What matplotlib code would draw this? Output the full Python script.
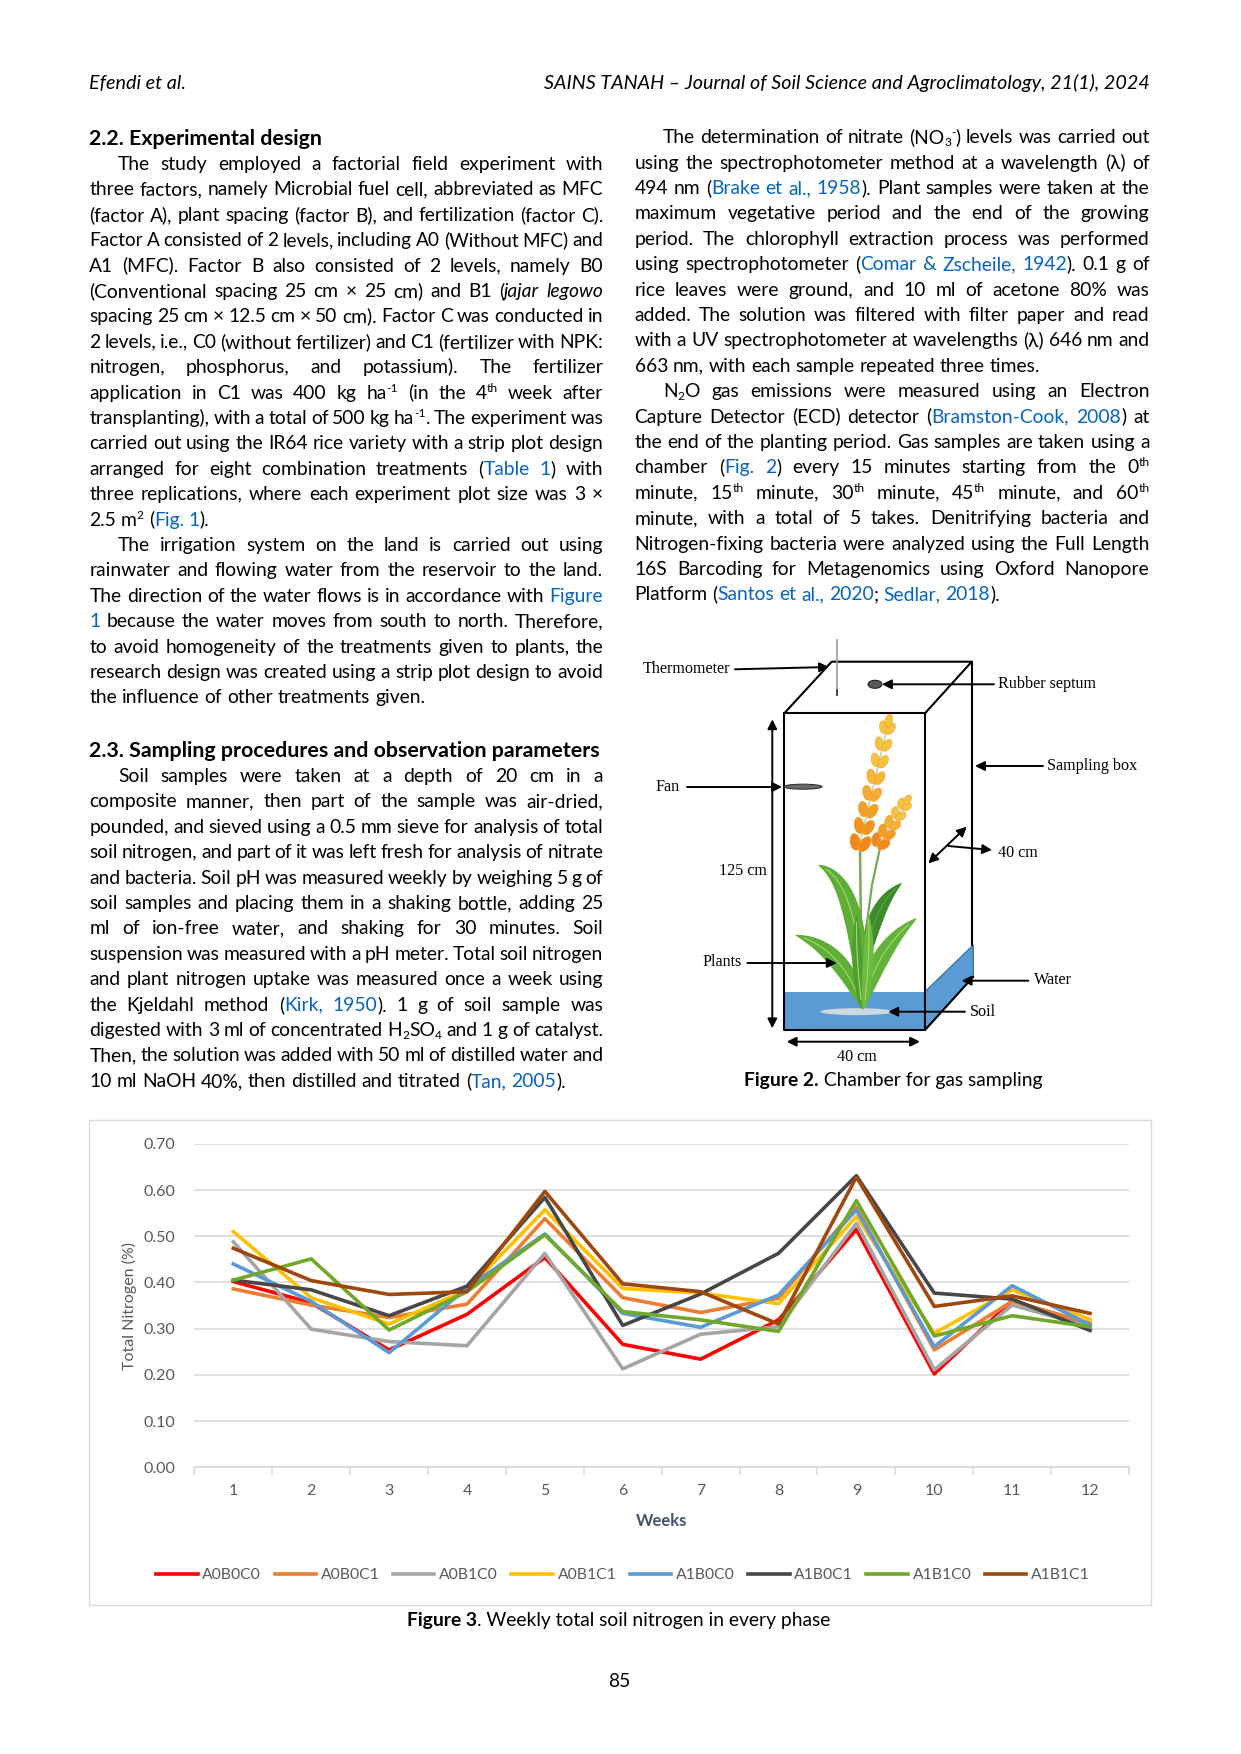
import re
import numpy as np
import matplotlib
matplotlib.use('Agg')
import matplotlib.pyplot as plt
from matplotlib.font_manager import FontProperties
from matplotlib.patches import Rectangle, Polygon, Ellipse
from matplotlib.ticker import FormatStrFormatter

W, H = 1241, 1754
BODY = ['Lato', 'DejaVu Sans']
SERIF = ['Liberation Serif', 'DejaVu Serif']
LINK = '#0563c1'
GREY = '#595959'
plt.rcParams['font.family'] = BODY

# ---- chart data (Figure 3) ----
weeks = list(range(1, 13))
treatments = ['A0B0C0', 'A0B0C1', 'A0B1C0', 'A0B1C1',
              'A1B0C0', 'A1B0C1', 'A1B1C0', 'A1B1C1']
colors = ['#ff0000', '#ed7d31', '#a5a5a5', '#ffc000',
          '#5b9bd5', '#474747', '#70a82a', '#9e480e']
a0b0c0 = [0.402, 0.356, 0.254, 0.331, 0.454, 0.266, 0.234, 0.319, 0.515, 0.202, 0.361, 0.308]
a0b0c1 = [0.386, 0.351, 0.324, 0.353, 0.538, 0.367, 0.335, 0.366, 0.563, 0.254, 0.359, 0.312]
a0b1c0 = [0.488, 0.299, 0.272, 0.263, 0.463, 0.213, 0.288, 0.304, 0.528, 0.211, 0.351, 0.304]
a0b1c1 = [0.510, 0.367, 0.310, 0.384, 0.557, 0.387, 0.377, 0.354, 0.543, 0.290, 0.384, 0.320]
a1b0c0 = [0.440, 0.359, 0.248, 0.388, 0.505, 0.333, 0.303, 0.373, 0.557, 0.261, 0.393, 0.308]
a1b0c1 = [0.405, 0.384, 0.328, 0.392, 0.584, 0.307, 0.375, 0.463, 0.631, 0.377, 0.364, 0.296]
a1b1c0 = [0.405, 0.451, 0.297, 0.380, 0.503, 0.337, 0.319, 0.294, 0.577, 0.284, 0.328, 0.304]
a1b1c1 = [0.474, 0.404, 0.374, 0.380, 0.597, 0.397, 0.380, 0.310, 0.628, 0.348, 0.371, 0.333]
series = [a0b0c0, a0b0c1, a0b1c0, a0b1c1, a1b0c0, a1b0c1, a1b1c0, a1b1c1]
yticks = [0.0, 0.1, 0.2, 0.3, 0.4, 0.5, 0.6, 0.7]

# ---- page text ----
header_left = 'Efendi et al.'
header_right = 'SAINS TANAH \u2013 Journal of Soil Science and Agroclimatology, 21(1), 2024'
head_22 = '2.2. Experimental design'
head_23 = '2.3. Sampling procedures and observation parameters'
par_a = [
    "The study employed a factorial field experiment with",
    "three factors, namely Microbial fuel cell, abbreviated as MFC",
    "(factor A), plant spacing (factor B), and fertilization (factor C).",
    "Factor A consisted of 2 levels, including A0 (Without MFC) and",
    "A1 (MFC). Factor B also consisted of 2 levels, namely B0",
    "(Conventional spacing 25 cm \u00d7 25 cm) and B1 (*jajar legowo*",
    "spacing 25 cm \u00d7 12.5 cm \u00d7 50 cm). Factor C was conducted in",
    "2 levels, i.e., C0 (without fertilizer) and C1 (fertilizer with NPK:",
    "nitrogen, phosphorus, and potassium). The fertilizer",
    "application in C1 was 400 kg ha^{-1} (in the 4^{th} week after",
    "transplanting), with a total of 500 kg ha^{-1}. The experiment was",
    "carried out using the IR64 rice variety with a strip plot design",
    "arranged for eight combination treatments (<Table 1>) with",
    "three replications, where each experiment plot size was 3 \u00d7",
    "2.5 m^{2} (<Fig. 1>).",
]
par_b = [
    "The irrigation system on the land is carried out using",
    "rainwater and flowing water from the reservoir to the land.",
    "The direction of the water flows is in accordance with <Figure>",
    "<1> because the water moves from south to north. Therefore,",
    "to avoid homogeneity of the treatments given to plants, the",
    "research design was created using a strip plot design to avoid",
    "the influence of other treatments given.",
]
par_c = [
    "Soil samples were taken at a depth of 20 cm in a",
    "composite manner, then part of the sample was air-dried,",
    "pounded, and sieved using a 0.5 mm sieve for analysis of total",
    "soil nitrogen, and part of it was left fresh for analysis of nitrate",
    "and bacteria. Soil pH was measured weekly by weighing 5 g of",
    "soil samples and placing them in a shaking bottle, adding 25",
    "ml of ion-free water, and shaking for 30 minutes. Soil",
    "suspension was measured with a pH meter. Total soil nitrogen",
    "and plant nitrogen uptake was measured once a week using",
    "the Kjeldahl method (<Kirk, 1950>). 1 g of soil sample was",
    "digested with 3 ml of concentrated H_{2}SO_{4} and 1 g of catalyst.",
    "Then, the solution was added with 50 ml of distilled water and",
    "10 ml NaOH 40%, then distilled and titrated  (<Tan, 2005>).",
]
par_d = [
    "The determination of nitrate (NO_{3}^{-}) levels was carried out",
    "using the spectrophotometer method at a wavelength (\u03bb) of",
    "494 nm (<Brake et al., 1958>). Plant samples were taken at the",
    "maximum vegetative period and the end of the growing",
    "period. The chlorophyll extraction process was performed",
    "using spectrophotometer (<Comar & Zscheile, 1942>). 0.1 g of",
    "rice leaves were ground, and 10 ml of acetone 80% was",
    "added. The solution was filtered with filter paper and read",
    "with a UV spectrophotometer at wavelengths (\u03bb) 646 nm and",
    "663 nm, with each sample repeated three times.",
]
par_e = [
    "N_{2}O gas emissions were measured using an Electron",
    "Capture Detector (ECD) detector (<Bramston-Cook, 2008>) at",
    "the end of the planting period. Gas samples are taken using a",
    "chamber (<Fig. 2>) every 15 minutes starting from the 0^{th}",
    "minute, 15^{th} minute, 30^{th} minute, 45^{th} minute, and 60^{th}",
    "minute, with a total of 5 takes. Denitrifying bacteria and",
    "Nitrogen-fixing bacteria were analyzed using the Full Length",
    "16S Barcoding for Metagenomics using Oxford Nanopore",
    "Platform (<Santos et al., 2020>; <Sedlar, 2018>).",
]

fig = plt.figure(figsize=(W / 100, H / 100), dpi=100)
renderer = fig.canvas.get_renderer()
page = fig.add_axes([0, 0, 1, 1])
page.set_xlim(0, W)
page.set_ylim(H, 0)
page.axis('off')

PX = 100 / 72


def fprops(style, size, fam=BODY):
    small = style in ('u', 's')
    return FontProperties(family=fam, size=size * (0.62 if small else 1),
                          style='italic' if style == 'i' else 'normal',
                          weight='bold' if style == 'b' else 'normal')


def tw(text, fp):
    return renderer.get_text_width_height_descent(text, fp, ismath=False)[0]


def parse(line):
    segs = []
    for tok in re.split(r'(\^\{[^}]*\}|_\{[^}]*\}|<[^>]*>|\*[^*]*\*)', line):
        if not tok:
            continue
        if tok.startswith('^{'):
            segs.append((tok[2:-1], 'u'))
        elif tok.startswith('_{'):
            segs.append((tok[2:-1], 's'))
        elif tok.startswith('<'):
            segs.append((tok[1:-1], 'l'))
        elif tok.startswith('*') and len(tok) > 1:
            segs.append((tok[1:-1], 'i'))
        else:
            segs.append((tok, ''))
    return segs


def words_of(line):
    words = [[]]
    for text, st in parse(line):
        for k, p in enumerate(text.split(' ')):
            if k > 0:
                words.append([])
            if p:
                words[-1].append((p, st))
    return [w for w in words if w]


def word_width(w, size):
    return sum(tw(t, fprops(st, size)) for t, st in w)


def space_w(size):
    fp = fprops('', size)
    return tw('n n', fp) - tw('nn', fp)


def draw_line(line, x0, x1, base, size, justify):
    words = words_of(line)
    if justify and len(words) > 1:
        # shrink the type a little on lines that would be too tight
        nat = sum(word_width(w, 10) for w in words) + 0.75 * (len(words) - 1) * space_w(10)
        size = min(size, 10 * (x1 - x0) / nat)
    widths = [word_width(w, size) for w in words]
    if justify and len(words) > 1:
        gap = (x1 - x0 - sum(widths)) / (len(words) - 1)
    else:
        gap = space_w(size)
    x = x0
    fpx = size * PX
    for w, ww in zip(words, widths):
        off = 0
        for t, st in w:
            fp = fprops(st, size)
            dy = {'u': -0.36 * fpx, 's': 0.17 * fpx}.get(st, 0)
            page.text(x + off, base + dy, t, fontproperties=fp,
                      color=LINK if st == 'l' else 'black',
                      ha='left', va='baseline')
            off += tw(t, fp)
        x += ww + gap


def fit_size(text, target, fam, style='', ref=10):
    return ref * target / tw(text, fprops(style, ref, fam))


# column geometry (pixels)
LX0, LX1 = 89.4, 603.2
RX0, RX1 = 634.5, 1149.4
IND = 28.5
STEP = 25.4

# body size from the natural length of the unjustified closing lines
BODY_SIZE = np.mean([fit_size('the influence of other treatments given.', 336, BODY),
                     fit_size('663 nm, with each sample repeated three times.', 409, BODY)])
BOFF = 0.3 * BODY_SIZE * PX


def draw_par(par, x0, x1, y0):
    for k, line in enumerate(par):
        draw_line(line, x0 + (IND if k == 0 else 0), x1, y0 + k * STEP + BOFF,
                  BODY_SIZE, justify=(k < len(par) - 1))
    return y0 + len(par) * STEP


# header
hs = fit_size(header_left, 97, BODY, 'i')
page.text(LX0, 89, header_left, fontproperties=fprops('i', hs), ha='left', va='baseline')
hs2 = fit_size(header_right, 604, BODY, 'i')
page.text(RX1, 89, header_right, fontproperties=fprops('i', hs2), ha='right', va='baseline')

# headings
s22 = fit_size(head_23, 511, BODY, 'b')
page.text(LX0, 145, head_22, fontproperties=fprops('b', s22), ha='left', va='baseline')
page.text(LX0, 757, head_23, fontproperties=fprops('b', s22), ha='left', va='baseline')

y = draw_par(par_a, LX0, LX1, 164.2)
draw_par(par_b, LX0, LX1, y)
draw_par(par_c, LX0, LX1, 776.3)
y = draw_par(par_d, RX0, RX1, 137.4)
draw_par(par_e, RX0, RX1, y)


def caption(cx, base, bold, rest):
    fb = fprops('b', BODY_SIZE)
    fr = fprops('', BODY_SIZE)
    wb, wr = tw(bold, fb), tw(rest, fr)
    x = cx - (wb + wr) / 2
    page.text(x, base, bold, fontproperties=fb, ha='left', va='baseline')
    page.text(x + wb, base, rest, fontproperties=fr, ha='left', va='baseline')


caption(893, 1086, 'Figure 2.', ' Chamber for gas sampling')
caption(619, 1626, 'Figure 3', '. Weekly total soil nitrogen in every phase')
page.text(619, 1687, '85', fontproperties=fprops('', BODY_SIZE), ha='center', va='baseline')

# ---- Figure 2: gas sampling chamber ----
BOX_LW = 1.5


def arrow(p0, p1, style='-|>'):
    page.annotate('', xy=p1, xytext=p0,
                  arrowprops=dict(arrowstyle=style, color='black', lw=1.4,
                                  shrinkA=0, shrinkB=0, mutation_scale=14))


def label(x, y, text, ha='left'):
    page.text(x, y, text, family=SERIF, fontsize=11.6, ha=ha, va='center')


def bezier(b, c, t, s):
    s = s[:, None]
    return (1 - s) ** 2 * b + 2 * (1 - s) * s * c + s ** 2 * t


def leaf(base, ctrl, tip, half, color, rib='#a9d66f', z=3):
    b, c, t = (np.array(p, float) for p in (base, ctrl, tip))
    s = np.linspace(0, 1, 40)
    mid = bezier(b, c, t, s)
    d = np.gradient(mid, axis=0)
    n = np.column_stack([-d[:, 1], d[:, 0]]) / np.hypot(d[:, 0], d[:, 1])[:, None]
    w = half * np.sin(np.pi * s ** 0.85) ** 0.8 + 1.5 * (1 - s)
    outline = np.vstack([mid + n * w[:, None], (mid - n * w[:, None])[::-1]])
    page.add_patch(Polygon(outline, closed=True, fc=color, ec='none', zorder=z))
    page.plot(mid[3:-4, 0], mid[3:-4, 1], color=rib, lw=0.8, zorder=z + 0.05)


def panicle(p0, p1, n, gw, gh):
    p0 = np.array(p0, float)
    p1 = np.array(p1, float)
    d = p1 - p0
    ang = np.degrees(np.arctan2(d[1], d[0]))
    nrm = np.array([-d[1], d[0]]) / np.hypot(*d)
    page.plot([p0[0], p1[0]], [p0[1], p1[1]], color='#c9d59a', lw=1.2, zorder=3.2)
    c0 = np.array(matplotlib.colors.to_rgb('#ef8a1a'))
    c1 = np.array(matplotlib.colors.to_rgb('#f6c33e'))
    for k in range(n):
        f = k / (n - 1)
        c = p0 + d * f
        col = c0 * (1 - min(1, f * 1.4)) + c1 * min(1, f * 1.4)
        sc = 1 - 0.25 * f
        for sgn in (-1, 1):
            e = Ellipse(c + nrm * sgn * gw * 0.5 * sc, gw * sc, gh * sc,
                        angle=ang + 90 + sgn * 22, fc=col, ec='#e8a23c', lw=0.4, zorder=3.3)
            page.add_patch(e)
    page.add_patch(Ellipse(p1 + d / np.hypot(*d) * gh * 0.45, gw * 0.75, gh * 0.75,
                           angle=ang + 90, fc=c1, ec='#e8a23c', lw=0.4, zorder=3.3))


# water / soil
page.add_patch(Rectangle((784.3, 991.7), 140.7, 38.3, fc='#5b9bd5', ec='none', zorder=2))
page.add_patch(Polygon([(925, 991.7), (973.3, 945), (973.3, 976.7), (925, 1030)],
                       closed=True, fc='#5b9bd5', ec='#3f75a8', lw=1, zorder=2))
page.add_patch(Ellipse((856.7, 1011.7), 73, 7, fc='#cfd8e0', ec='none', zorder=2.2))

# plant
page.plot([862.5, 861, 860], [1008, 930, 850], color='#7aa85a', lw=1.8, zorder=2.9)
page.plot([866, 872, 880], [930, 885, 848], color='#7aa85a', lw=1.6, zorder=2.9)
leaf((866, 962), (872, 905), (902, 883), 6.5, '#3d8b2b', rib='#5aa33c', z=2.95)
leaf((862, 1005), (860, 880), (818, 865), 8, '#5fae37')
leaf((861, 1004), (842, 948), (795, 935), 7.5, '#5fae37')
leaf((864, 1004), (876, 948), (917, 918), 7.5, '#63b33a')
leaf((862, 1008), (855, 950), (857, 915), 4.5, '#4f9e31', z=3.2)
leaf((864, 1008), (871, 950), (868, 912), 4.5, '#6abb3e', z=3.2)
panicle((860, 843), (887, 728), 8, 10, 17)
panicle((880, 842), (904, 805), 5, 9, 14)

# box edges
k = dict(color='black', lw=BOX_LW, zorder=4, solid_capstyle='round')
page.plot([784.3, 925, 925, 784.3, 784.3], [713.3, 713.3, 1030, 1030, 713.3], **k)
page.plot([784.3, 831.7, 971.7, 925], [713.3, 661.7, 661.7, 713.3], **k)
page.plot([971.7, 971.7], [661.7, 945], **k)
page.plot([925, 973.3], [1030, 976.7], **k)

# thermometer, septum, fan
page.plot([836.7, 836.7], [640, 695], color='#9a9a9a', lw=1.2, zorder=4)
page.plot([836.7, 836.7], [690, 695], color='#333333', lw=1.2, zorder=4)
page.add_patch(Ellipse((875, 684.3), 14, 8, fc='#5a5a5a', ec='#222222', lw=0.8, zorder=4))
page.add_patch(Ellipse((803, 786.7), 38, 5, fc='#6a6a6a', ec='#333333', lw=0.8, zorder=4))

label(643, 669.3, 'Thermometer')
arrow((735, 669.3), (829, 667))
label(997.7, 684.3, 'Rubber septum')
arrow((994, 684.3), (882, 684.3))
label(1047.3, 766, 'Sampling box')
arrow((1043, 766), (975, 766))
label(655, 787.3, 'Fan')
arrow((687, 787), (782, 787))
arrow((772.3, 719.3), (772.3, 1028.3), '<|-|>')
label(743.3, 870.7, '125 cm', ha='center')
arrow((786.7, 1041.7), (920, 1041.7), '<|-|>')
label(856.7, 1057, '40 cm', ha='center')
arrow((928.3, 863.3), (966.7, 826.7), '<|-|>')
arrow((948.3, 846), (992, 850))
label(998.3, 852.7, '40 cm')
label(741.7, 962, 'Plants', ha='right')
arrow((747.3, 963), (836.7, 963))
label(1034.3, 980, 'Water')
arrow((1028.3, 980.7), (961.7, 980.7))
label(970, 1011.7, 'Soil')
arrow((965, 1011.7), (888.3, 1011.7))

# ---- Figure 3: weekly total soil nitrogen ----
page.add_patch(Rectangle((89, 1120), 1062, 485, fill=False, ec='#d9d9d9', lw=1))

AX_L, AX_R, AX_B, AX_T = 194.4, 1129, 1467.3, 1143.8
ax = fig.add_axes([AX_L / W, 1 - AX_B / H, (AX_R - AX_L) / W, (AX_B - AX_T) / H])
ax.set_facecolor('none')
for name, vals, c in zip(treatments, series, colors):
    ax.plot(weeks, vals, color=c, lw=2.6, label=name)
ax.set_xlim(0.5, 12.5)
ax.set_ylim(0, 0.7)
ax.set_yticks(yticks)
ax.yaxis.set_major_formatter(FormatStrFormatter('%.2f'))
ax.set_xticks(weeks)
ax.set_xticks(np.arange(0.5, 12.6, 1), minor=True)
ax.grid(axis='y', color='#d9d9d9', lw=1.2)
ax.set_axisbelow(True)
for s in ['top', 'right', 'left']:
    ax.spines[s].set_visible(False)
ax.spines['bottom'].set_color('#d9d9d9')
ax.spines['bottom'].set_linewidth(1.2)
ax.tick_params(axis='x', which='major', length=0, pad=12, labelsize=11.5, labelcolor=GREY)
ax.tick_params(axis='x', which='minor', length=6, color='#d9d9d9', width=1.2)
ax.tick_params(axis='y', length=0, pad=14, labelsize=11.5, labelcolor=GREY)
ax.set_xlabel('Weeks', fontsize=12, weight='bold', color='#44546a')
ax.xaxis.set_label_coords(0.5, -(1513.5 - AX_B) / (AX_B - AX_T))
ax.set_ylabel('Total Nitrogen (%)', fontsize=11.5, color=GREY)
ax.yaxis.set_label_coords(-(AX_L - 137) / (AX_R - AX_L), 0.5)

handles, labels = ax.get_legend_handles_labels()
fig.legend(handles, labels, loc='center', bbox_to_anchor=(623 / W, 1 - 1575 / H),
           ncol=8, frameon=False, fontsize=11.3, handlelength=2.65,
           handletextpad=0.3, columnspacing=0.85, labelcolor=GREY)

fig.savefig('out.png', dpi=100, facecolor='white')
